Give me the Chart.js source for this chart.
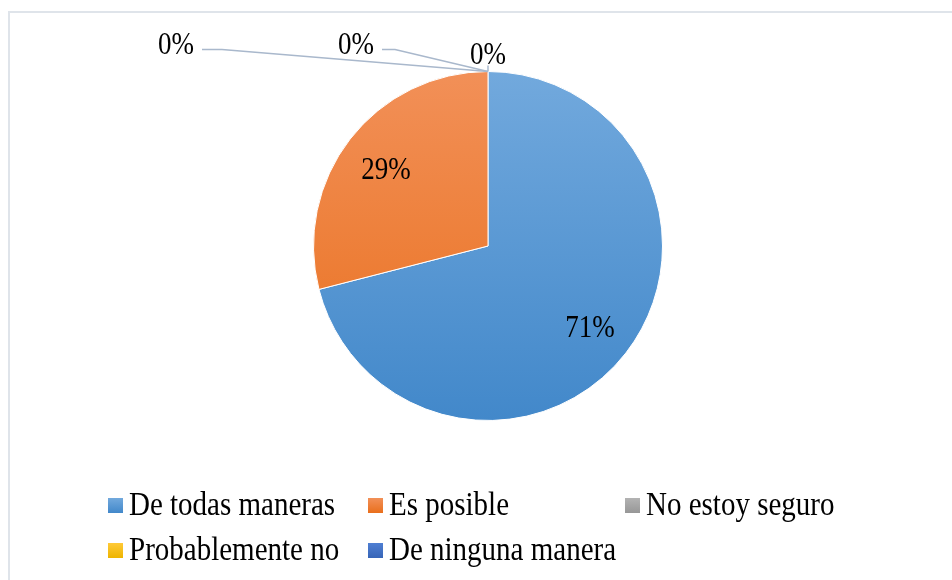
<!DOCTYPE html>
<html>
<head>
<meta charset="utf-8">
<script src="https://cdn.jsdelivr.net/npm/chart.js@4.4.1/dist/chart.umd.min.js"></script>
<style>
  html, body { margin: 0; padding: 0; background: #fff; }
  #wrap { width: 952px; height: 580px; position: relative; }
</style>
</head>
<body>
<div id="wrap"><canvas id="chart" width="952" height="580"></canvas></div>
<script>
// data
const categories = ['De todas maneras', 'Es posible', 'No estoy seguro', 'Probablemente no', 'De ninguna manera'];
const percentages = [71, 29, 0, 0, 0];
// colour stops (top, bottom) for each slice
const colorTop = ['#72a9dd', '#f29058', '#b3b3b3', '#ffca38', '#4f7fd3'];
const colorBottom = ['#4288ca', '#e96f1c', '#979797', '#eeb400', '#3765b7'];

const serif = '"Liberation Serif", "Times New Roman", serif';
const textStretch = 1.14; // the original text is a bit taller than it is wide

// where the labels of the empty slices sit (offsets from the slice anchor)
const zeroLabelOffsets = [
  { dx: -312, dy: -26, bendDx: -266, bendDy: -22 },
  { dx: -132, dy: -26, bendDx: -93, bendDy: -22 },
  { dx: 0, dy: -16, bendDx: 0, bendDy: -6 }
];

function vGradient(ctx, area, top, bottom) {
  const g = ctx.createLinearGradient(0, area.top, 0, area.bottom);
  g.addColorStop(0, top);
  g.addColorStop(1, bottom);
  return g;
}

function tallText(ctx, text, x, y) {
  ctx.save();
  ctx.translate(x, y);
  ctx.scale(1, textStretch);
  ctx.fillText(text, 0, 0);
  ctx.restore();
}

const framePlugin = {
  id: 'frame',
  beforeDraw(chart) {
    const ctx = chart.ctx;
    ctx.save();
    ctx.strokeStyle = '#dfe4ea';
    ctx.lineWidth = 2;
    ctx.beginPath();
    ctx.moveTo(9, 580);
    ctx.lineTo(9, 12);
    ctx.lineTo(952, 12);
    ctx.stroke();
    ctx.restore();
  }
};

const labelPlugin = {
  id: 'sliceLabels',
  afterDatasetsDraw(chart) {
    const ctx = chart.ctx;
    const meta = chart.getDatasetMeta(0);
    ctx.save();
    ctx.font = '27px ' + serif;
    ctx.fillStyle = '#000';
    ctx.textAlign = 'center';
    ctx.textBaseline = 'middle';
    let z = 0;
    meta.data.forEach((arc, i) => {
      const v = percentages[i];
      const p = arc.getProps(['x', 'y', 'startAngle', 'endAngle', 'outerRadius'], true);
      const text = v + '%';
      if (v > 0) {
        const mid = (p.startAngle + p.endAngle) / 2;
        const r = p.outerRadius * 0.74;
        tallText(ctx, text, p.x + Math.cos(mid) * r, p.y + Math.sin(mid) * r + 4);
      } else {
        const o = zeroLabelOffsets[z++];
        const ax = p.x + Math.cos(p.startAngle) * p.outerRadius;
        const ay = p.y + Math.sin(p.startAngle) * p.outerRadius;
        ctx.strokeStyle = '#a9b8cc';
        ctx.lineWidth = 1.5;
        ctx.beginPath();
        if (o.dx !== 0) {
          ctx.moveTo(ax + o.dx + 26, ay + o.bendDy);
          ctx.lineTo(ax + o.bendDx, ay + o.bendDy);
        } else {
          ctx.moveTo(ax, ay + o.bendDy);
        }
        ctx.lineTo(ax, ay);
        ctx.stroke();
        tallText(ctx, text, ax + o.dx, ay + o.dy);
      }
    });
    ctx.restore();
  }
};

// legend laid out as a grid, like the original
const legendCols = [108, 368, 625];
const legendRows = [505, 550];
const legendPlugin = {
  id: 'gridLegend',
  afterDraw(chart) {
    const ctx = chart.ctx;
    ctx.save();
    ctx.font = '29px ' + serif;
    ctx.textBaseline = 'middle';
    ctx.textAlign = 'left';
    chart.data.labels.forEach((lab, i) => {
      const x = legendCols[i % 3];
      const y = legendRows[Math.floor(i / 3)];
      const g = ctx.createLinearGradient(0, y - 7, 0, y + 8);
      g.addColorStop(0, colorTop[i]);
      g.addColorStop(1, colorBottom[i]);
      ctx.fillStyle = g;
      ctx.fillRect(x, y - 7, 15, 15);
      ctx.fillStyle = '#000';
      tallText(ctx, lab, x + 21, y + 1);
    });
    ctx.restore();
  }
};

new Chart(document.getElementById('chart'), {
  type: 'pie',
  data: {
    labels: categories,
    datasets: [{
      data: percentages,
      backgroundColor: (c) => {
        const area = c.chart.chartArea;
        if (!area) return colorBottom[c.dataIndex];
        return vGradient(c.chart.ctx, area, colorTop[c.dataIndex], colorBottom[c.dataIndex]);
      },
      borderColor: '#ffffff',
      borderWidth: 1
    }]
  },
  options: {
    responsive: false,
    animation: false,
    layout: { padding: { top: 71, bottom: 159, left: 24, right: 0 } },
    plugins: {
      legend: { display: false },
      tooltip: { enabled: false }
    }
  },
  plugins: [framePlugin, labelPlugin, legendPlugin]
});
</script>
</body>
</html>
